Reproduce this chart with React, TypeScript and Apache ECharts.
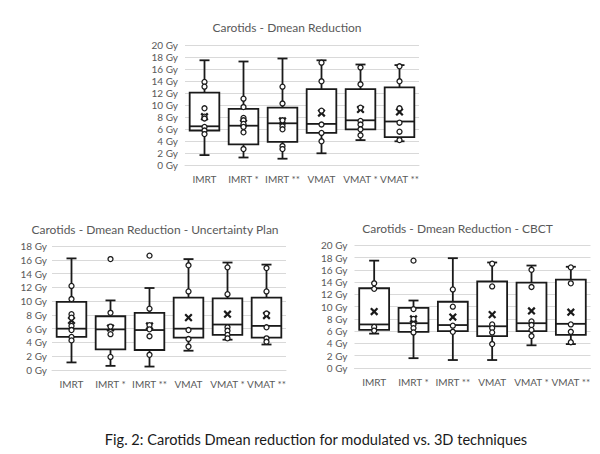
import React, { useEffect, useRef } from "react";
import * as echarts from "echarts";

const categories = ["IMRT", "IMRT *", "IMRT **", "VMAT", "VMAT *", "VMAT **"];

const titles = [
  "Carotids - Dmean Reduction",
  "Carotids - Dmean Reduction - Uncertainty Plan",
  "Carotids - Dmean Reduction - CBCT",
];
const caption = "Fig. 2: Carotids Dmean reduction for modulated vs. 3D techniques";

// [min, Q1, median, Q3, max]
const box1 = [
  [1.7, 5.8, 6.5, 12.1, 17.5],
  [1.3, 3.5, 6.6, 9.4, 17.3],
  [1.1, 3.9, 7.0, 9.6, 17.8],
  [2.0, 5.4, 6.9, 12.7, 17.5],
  [4.2, 6.0, 7.5, 12.7, 16.8],
  [4.0, 4.7, 7.3, 13.0, 16.7],
];
const pts1 = [
  [13.9, 13.1, 9.5, 8.1, 7.8, 6.4, 5.8, 5.2],
  [11.1, 9.7, 7.9, 7.5, 6.9, 6.4, 5.5, 2.7],
  [13.1, 10.3, 7.5, 6.5, 6.0, 3.2, 2.7],
  [17.1, 14.0, 9.1, 6.8, 5.4, 4.0],
  [16.3, 13.5, 9.6, 7.4, 6.8, 6.0, 5.0],
  [16.5, 14.0, 9.5, 7.1, 5.6, 4.2],
];
const means1 = [8.1, 7.0, 7.4, 8.7, 9.3, 8.9];

const box2 = [
  [1.1, 4.8, 6.0, 9.9, 16.2],
  [0.6, 3.0, 5.9, 7.8, 10.1],
  [0.5, 2.9, 5.8, 8.3, 11.9],
  [2.8, 4.7, 6.0, 10.5, 16.1],
  [4.4, 5.1, 6.6, 10.4, 15.6],
  [3.7, 4.7, 6.4, 10.5, 15.3],
];
const pts2 = [
  [12.2, 10.3, 8.1, 7.6, 6.4, 5.8, 4.8, 4.3],
  [16.1, 8.3, 6.3, 5.2, 1.9],
  [16.6, 8.9, 6.5, 5.9, 4.9, 2.2],
  [15.2, 11.4, 5.8, 4.5, 3.4],
  [14.9, 11.0, 6.2, 5.7, 5.1, 4.6],
  [14.8, 11.4, 8.2, 6.2, 4.6, 4.1],
];
const means2 = [7.2, 6.1, 6.4, 7.6, 8.1, 7.9];

const box3 = [
  [5.6, 6.2, 7.1, 13.0, 17.5],
  [1.6, 5.9, 7.3, 9.8, 11.0],
  [1.3, 6.0, 7.0, 10.8, 17.9],
  [1.3, 5.2, 6.8, 14.1, 17.2],
  [3.7, 6.0, 7.3, 13.9, 16.7],
  [3.9, 5.4, 7.2, 14.4, 16.5],
];
const pts3 = [
  [13.8, 12.9, 6.7, 6.1],
  [17.5, 9.6, 8.0, 7.1, 6.5, 5.8],
  [12.8, 10.0, 6.9, 5.9],
  [17.0, 13.3, 7.1, 6.5, 5.8, 3.9],
  [16.0, 13.2, 7.6, 7.0, 6.2, 5.2],
  [16.4, 13.8, 7.1, 5.9, 4.2],
];
const means3 = [9.2, 8.0, 8.3, 8.7, 9.3, 9.1];

const yMax = [20, 18, 20];

const FONT = "Lato";
const LABEL = "#595959";
const INK = "#1a1a1a";

export default function App() {
  const ref = useRef<HTMLDivElement>(null);

  useEffect(() => {
    document.body.style.margin = "0";
    if (!ref.current) return;
    const chart = echarts.init(ref.current, undefined, { renderer: "svg" });

    const grids = [
      { left: 185, right: 181, top: 45.3, bottom: 454 - 165.3 },
      { left: 52, right: 600 - 286, top: 246, bottom: 454 - 370 },
      { left: 354.5, right: 600 - 590.5, top: 245.3, bottom: 454 - 368 },
    ];
    const boxes = [box1, box2, box3];
    const pts = [pts1, pts2, pts3];
    const means = [means1, means2, means3];

    const boxRender = (params: any, api: any) => {
      const x = api.value(0);
      const pMin = api.coord([x, api.value(1)]);
      const pQ1 = api.coord([x, api.value(2)]);
      const pMed = api.coord([x, api.value(3)]);
      const pQ3 = api.coord([x, api.value(4)]);
      const pMax = api.coord([x, api.value(5)]);
      const bw = api.size([1, 0])[0];
      const hw = bw * 0.38;
      const cw = 5;
      const cx = pMed[0];
      const st = { stroke: INK, lineWidth: 1.8, fill: "none" };
      return {
        type: "group",
        children: [
          { type: "line", shape: { x1: cx, y1: pMax[1], x2: cx, y2: pQ3[1] }, style: st },
          { type: "line", shape: { x1: cx, y1: pQ1[1], x2: cx, y2: pMin[1] }, style: st },
          { type: "line", shape: { x1: cx - cw, y1: pMax[1], x2: cx + cw, y2: pMax[1] }, style: st },
          { type: "line", shape: { x1: cx - cw, y1: pMin[1], x2: cx + cw, y2: pMin[1] }, style: st },
          {
            type: "rect",
            shape: { x: cx - hw, y: pQ3[1], width: 2 * hw, height: pQ1[1] - pQ3[1] },
            style: { stroke: INK, lineWidth: 1.8, fill: "#ffffff" },
          },
          { type: "line", shape: { x1: cx - hw, y1: pMed[1], x2: cx + hw, y2: pMed[1] }, style: st },
        ],
      };
    };

    const meanRender = (params: any, api: any) => {
      const p = api.coord([api.value(0), api.value(1)]);
      const s = 3.3;
      const st = { stroke: INK, lineWidth: 2.2, fill: "none" };
      return {
        type: "group",
        children: [
          { type: "line", shape: { x1: p[0] - s, y1: p[1] - s, x2: p[0] + s, y2: p[1] + s }, style: st },
          { type: "line", shape: { x1: p[0] + s, y1: p[1] - s, x2: p[0] - s, y2: p[1] + s }, style: st },
        ],
      };
    };

    const series: any[] = [];
    for (let k = 0; k < 3; k++) {
      series.push({
        type: "custom",
        xAxisIndex: k,
        yAxisIndex: k,
        renderItem: boxRender,
        encode: { x: 0, y: [1, 2, 3, 4, 5] },
        data: boxes[k].map((b, i) => [i, ...b]),
      });
      series.push({
        type: "scatter",
        xAxisIndex: k,
        yAxisIndex: k,
        symbol: "circle",
        symbolSize: 5,
        itemStyle: { color: "#ffffff", borderColor: INK, borderWidth: 1.3, opacity: 1 },
        data: pts[k].flatMap((arr, i) => arr.map((v) => [i, v])),
      });
      series.push({
        type: "custom",
        xAxisIndex: k,
        yAxisIndex: k,
        renderItem: meanRender,
        encode: { x: 0, y: 1 },
        data: means[k].map((m, i) => [i, m]),
      });
    }

    const graphics: any[] = [
      { x: 287, y: 27, text: titles[0], size: 12 },
      { x: 155, y: 229.5, text: titles[1], size: 12 },
      { x: 457.5, y: 228.5, text: titles[2], size: 12 },
    ].map((t) => ({
      type: "text",
      x: t.x,
      y: t.y,
      style: {
        text: t.text,
        fill: LABEL,
        font: `${t.size}px ${FONT}`,
        textAlign: "center",
        textVerticalAlign: "middle",
      },
    }));
    graphics.push({
      type: "text",
      x: 316,
      y: 439,
      style: {
        text: caption,
        fill: "#1a1a1a",
        font: `14.6px ${FONT}`,
        textAlign: "center",
        textVerticalAlign: "middle",
      },
    });

    chart.setOption({
      animation: false,
      backgroundColor: "#ffffff",
      grid: grids,
      xAxis: grids.map((_, k) => ({
        type: "category",
        gridIndex: k,
        data: categories,
        boundaryGap: true,
        axisTick: { show: false },
        axisLine: { show: true, lineStyle: { color: "#d9d9d9", width: 1 } },
        axisLabel: { color: LABEL, fontSize: 10, fontFamily: FONT, margin: 9, interval: 0 },
        splitLine: { show: false },
      })),
      yAxis: grids.map((_, k) => ({
        type: "value",
        gridIndex: k,
        min: 0,
        max: yMax[k],
        interval: 2,
        axisLine: { show: false },
        axisTick: { show: false },
        axisLabel: {
          color: LABEL,
          fontSize: 10,
          fontFamily: FONT,
          margin: k === 1 ? 5 : 7,
          formatter: "{value} Gy",
        },
        splitLine: { show: true, lineStyle: { color: "#d9d9d9", width: 1 } },
      })),
      series,
      graphic: graphics,
    });

    return () => {
      chart.dispose();
    };
  }, []);

  return (
    <div
      ref={ref}
      style={{ position: "absolute", left: 0, top: 0, width: 600, height: 454, background: "#fff" }}
    />
  );
}
